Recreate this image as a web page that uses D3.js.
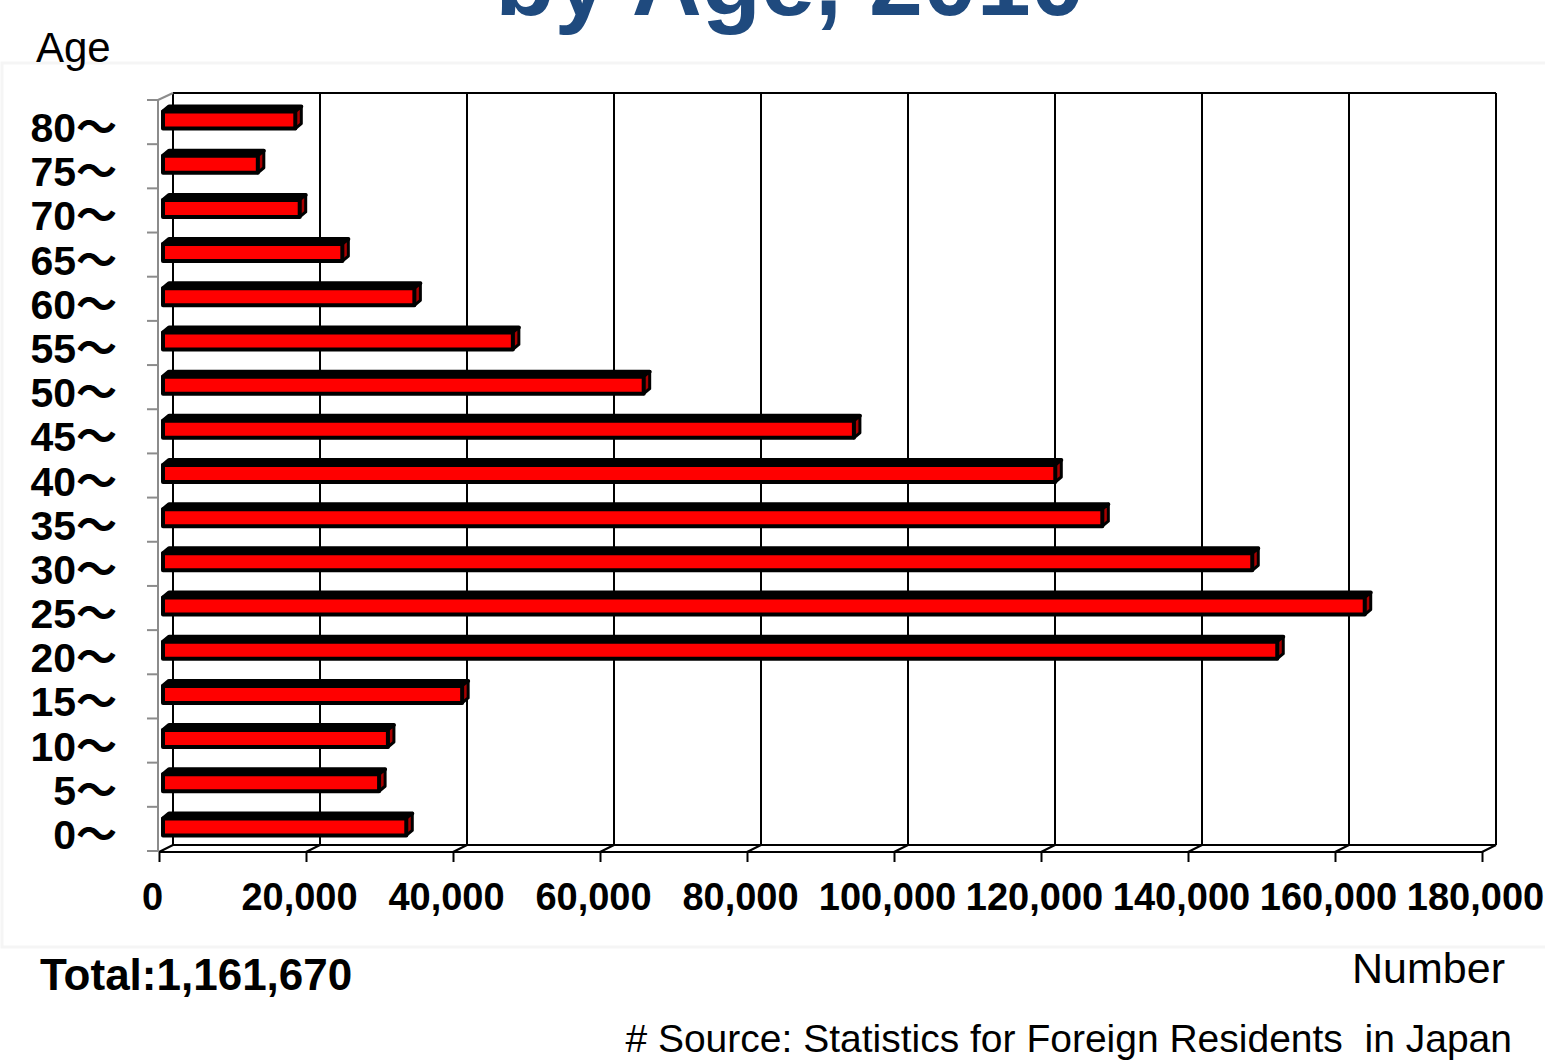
<!DOCTYPE html>
<html>
<head>
<meta charset="utf-8">
<script src="https://cdn.jsdelivr.net/npm/d3@7"></script>
<style>
  html, body { margin: 0; padding: 0; background: #fff; }
  svg { display: block; }
  text { font-family: "Liberation Sans", Arial, "Noto Sans CJK JP", sans-serif; }
</style>
</head>
<body>
<svg id="chart" width="1545" height="1063"></svg>
<script>
// ---- data ----
const categories = ["0～","5～","10～","15～","20～","25～","30～","35～","40～","45～","50～","55～","60～","65～","70～","75～","80～"];
const values = [33100, 29400, 30600, 40700, 151600, 163500, 148200, 127800, 121400, 94000, 65400, 47600, 34200, 24400, 18600, 12900, 18000];
const xTicks = [0, 20000, 40000, 60000, 80000, 100000, 120000, 140000, 160000, 180000];
const xTickLabels = ["0","20,000","40,000","60,000","80,000","100,000","120,000","140,000","160,000","180,000"];
const titleText = "by Age, 2010";
const totalText = "Total:1,161,670";

const svg = d3.select("#chart");

// chart area box
svg.append("rect").attr("x", 2).attr("y", 63).attr("width", 1570).attr("height", 884)
  .attr("fill", "#fff").attr("stroke", "#f5f5f5").attr("stroke-width", 3);

// title (partially cut off at the top, as in the reference)
svg.append("text").attr("x", 790).attr("y", 15).attr("text-anchor", "middle")
  .attr("font-size", 97).attr("font-weight", "bold").attr("fill", "#1f4a7e").text(titleText);

// scales
const depthX = 14, depthY = -7;
const xFront = d3.scaleLinear().domain([0, 180000]).range([159, 1482]);
const xBack = d3.scaleLinear().domain([0, 180000]).range([159 + depthX, 1482 + depthX]);
const xBar = d3.scaleLinear().domain([0, 180000]).range([163, 1486]);
const yBand = d3.scaleBand().domain(categories.slice().reverse()).range([100, 851]).padding(0);
const floorY = 852;
const topY = 93;

// back wall gridlines
const g = svg.append("g");
g.selectAll("line.grid").data(xTicks).join("line")
  .attr("x1", d => xBack(d)).attr("x2", d => xBack(d))
  .attr("y1", topY).attr("y2", floorY + depthY)
  .attr("stroke", "#000").attr("stroke-width", 2);
g.append("line").attr("x1", xBack(0)).attr("x2", xBack(180000)).attr("y1", topY).attr("y2", topY)
  .attr("stroke", "#000").attr("stroke-width", 2);
g.append("line").attr("x1", xBack(0)).attr("x2", xBack(180000)).attr("y1", floorY + depthY).attr("y2", floorY + depthY)
  .attr("stroke", "#000").attr("stroke-width", 2);
g.append("line").attr("x1", xFront(0)).attr("x2", xFront(180000)).attr("y1", floorY).attr("y2", floorY)
  .attr("stroke", "#000").attr("stroke-width", 2);
g.selectAll("line.diag").data(xTicks).join("line")
  .attr("x1", d => xFront(d)).attr("x2", d => xBack(d))
  .attr("y1", floorY).attr("y2", floorY + depthY)
  .attr("stroke", "#000").attr("stroke-width", 2);

// front x axis with ticks
const xAxis = d3.axisBottom(xFront).tickValues(xTicks).tickSize(10).tickFormat((d, i) => xTickLabels[i]);
const xg = svg.append("g").attr("transform", `translate(0,${floorY})`).call(xAxis);
xg.select(".domain").remove();
xg.selectAll(".tick line").attr("stroke", "#000").attr("stroke-width", 2);
xg.selectAll(".tick text").attr("font-size", 38).attr("font-weight", "bold").attr("fill", "#000")
  .attr("font-family", '"Liberation Sans", Arial, sans-serif')
  .attr("dx", -7).attr("y", 58).attr("dy", 0);

// left grey axis (front-left edge) and diagonal at top
svg.append("line").attr("x1", 158).attr("x2", 158).attr("y1", 100).attr("y2", floorY)
  .attr("stroke", "#8c8c8c").attr("stroke-width", 2);
svg.append("line").attr("x1", 158).attr("x2", xBack(0)).attr("y1", 100).attr("y2", topY)
  .attr("stroke", "#8c8c8c").attr("stroke-width", 2);
const yEdges = yBand.domain().map(c => yBand(c)).concat([yBand.range()[1]]);
svg.selectAll("line.ytick").data(yEdges).join("line")
  .attr("x1", 147).attr("x2", 158).attr("y1", d => d).attr("y2", d => d)
  .attr("stroke", "#8c8c8c").attr("stroke-width", 2);

// y labels
svg.selectAll("text.ylab").data(categories).join("text")
  .attr("x", 117).attr("y", d => yBand(d) + yBand.bandwidth() / 2 + 20)
  .attr("text-anchor", "end").attr("font-size", 41).attr("font-weight", "bold").attr("fill", "#000")
  .text(d => d);

// bars (3D boxes)
const bars = svg.append("g");
const data = categories.map((c, i) => ({ c, v: values[i] }));
const bdx = 6, bdy = -5;
const sw = 4;
data.forEach(d => {
  const c = yBand(d.c) + yBand.bandwidth() / 2;
  const x0 = xBar(0), x1 = xBar(d.v);
  const yt = c - 10.5, yb = c + 6.5;
  // top face
  bars.append("polygon")
    .attr("points", [[x0, yt], [x0 + bdx, yt + bdy], [x1 + bdx, yt + bdy], [x1, yt]].map(p => p.join(",")).join(" "))
    .attr("fill", "#000").attr("stroke", "#000").attr("stroke-width", sw).attr("stroke-linejoin", "round");
  // side face
  bars.append("polygon")
    .attr("points", [[x1, yt], [x1 + bdx, yt + bdy], [x1 + bdx, yb + bdy], [x1, yb]].map(p => p.join(",")).join(" "))
    .attr("fill", "#a80000").attr("stroke", "#000").attr("stroke-width", sw - 1).attr("stroke-linejoin", "round");
  // front face
  bars.append("rect").attr("x", x0).attr("y", yt).attr("width", x1 - x0).attr("height", yb - yt)
    .attr("fill", "#ff0000").attr("stroke", "#000").attr("stroke-width", sw).attr("stroke-linejoin", "round");
});

// axis titles & notes
svg.append("text").attr("x", 36).attr("y", 62).attr("font-size", 42).attr("fill", "#000").text("Age");
svg.append("text").attr("x", 1505).attr("y", 983).attr("text-anchor", "end").attr("font-size", 43).attr("fill", "#000").text("Number");
svg.append("text").attr("x", 40).attr("y", 990).attr("font-size", 44).attr("font-weight", "bold").attr("fill", "#000").text(totalText);
svg.append("text").attr("x", 1512).attr("y", 1052).attr("text-anchor", "end").attr("font-size", 39).attr("fill", "#000")
  .attr("xml:space", "preserve").style("white-space", "pre")
  .text("# Source: Statistics for Foreign Residents  in Japan");
</script>
</body>
</html>
